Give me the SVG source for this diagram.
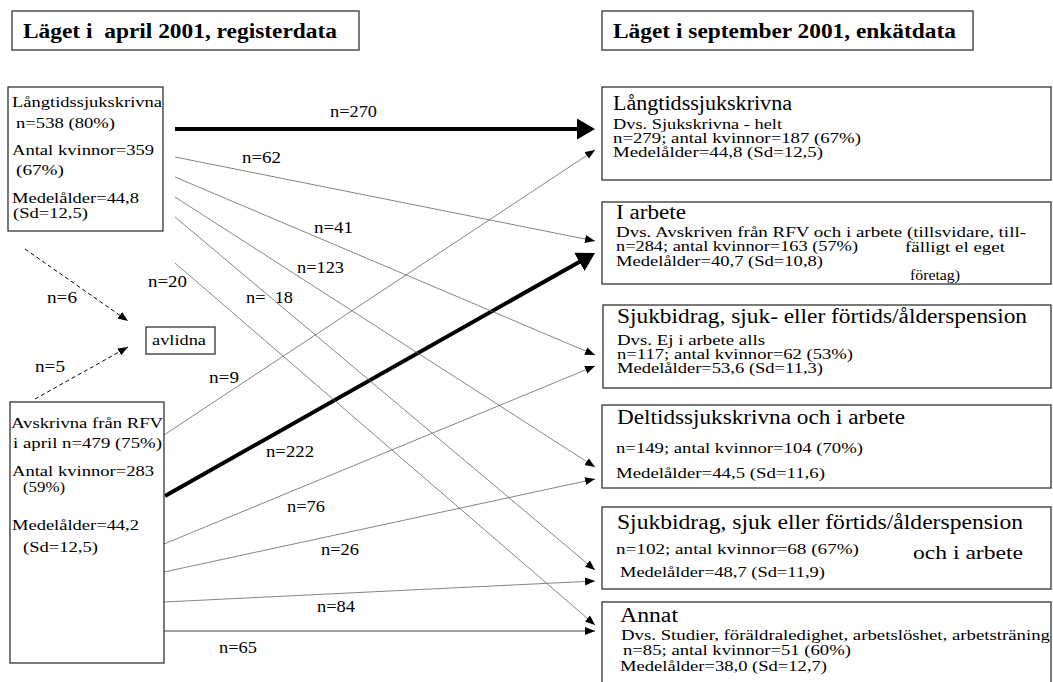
<svg xmlns="http://www.w3.org/2000/svg" width="1053" height="682" viewBox="0 0 1053 682">
<style>
text{font-family:"Liberation Serif","Tinos","Times New Roman","DejaVu Serif",serif;fill:#000;}
.ttl{font-size:20px;font-weight:bold;}
.lb{font-size:15px;}
.n{font-size:16px;}
.hd{font-size:20px;}
.sm{font-size:14px;}
.box{fill:#fff;stroke:#333;stroke-width:1.3;}
.thin{stroke:#666;stroke-width:0.8;fill:none;}
.thick{stroke:#000;stroke-width:4;fill:none;}
.dash{stroke:#000;stroke-width:1;stroke-dasharray:4 3;fill:none;}
</style>
<defs>
<marker id="ah" markerUnits="userSpaceOnUse" markerWidth="11" markerHeight="9" refX="10" refY="4" orient="auto">
<path d="M0,0 L10,4 L0,8 Z" fill="#000"/>
</marker>
<marker id="ahb" markerUnits="userSpaceOnUse" markerWidth="19" markerHeight="22" refX="8" refY="10.5" orient="auto">
<path d="M0,0 L18,10.5 L0,21 Z" fill="#000"/>
</marker>
</defs>
<rect width="1053" height="682" fill="#fff"/>

<g id="title-left">
<rect class="box" x="12" y="11" width="347" height="39"/>
<text class="ttl" x="23" y="38" textLength="314" lengthAdjust="spacingAndGlyphs" xml:space="preserve" style="white-space:pre">Läget i  april 2001, registerdata</text>
</g>
<g id="title-right">
<rect class="box" x="602" y="11" width="371" height="39"/>
<text class="ttl" x="613" y="38" textLength="343" lengthAdjust="spacingAndGlyphs">Läget i september 2001, enkätdata</text>
</g>

<g id="connectors">
<line class="thick" x1="175" y1="129" x2="585" y2="129" marker-end="url(#ahb)"/>
<line class="thick" x1="165" y1="496" x2="586.3" y2="257.9" marker-end="url(#ahb)"/>
<line class="thin" x1="175" y1="157" x2="595" y2="241" marker-end="url(#ah)"/>
<line class="thin" x1="175" y1="177" x2="595" y2="355" marker-end="url(#ah)"/>
<line class="thin" x1="175" y1="197" x2="595" y2="467" marker-end="url(#ah)"/>
<line class="thin" x1="175" y1="217" x2="595" y2="570" marker-end="url(#ah)"/>
<line class="thin" x1="175" y1="263" x2="595" y2="625" marker-end="url(#ah)"/>
<line class="thin" x1="164" y1="435" x2="595" y2="150" marker-end="url(#ah)"/>
<line class="thin" x1="164" y1="544" x2="595" y2="366" marker-end="url(#ah)"/>
<line class="thin" x1="164" y1="572" x2="595" y2="479" marker-end="url(#ah)"/>
<line class="thin" x1="164" y1="602" x2="595" y2="581" marker-end="url(#ah)"/>
<line class="thin" x1="164" y1="631" x2="595" y2="631" style="stroke:#444;stroke-width:1" marker-end="url(#ah)"/>
<line class="dash" x1="25" y1="249" x2="128" y2="321" marker-end="url(#ah)"/>
<line class="dash" x1="35" y1="399" x2="128" y2="347" marker-end="url(#ah)"/>
</g>

<g id="labels">
<text class="n" x="330" y="117" textLength="47" lengthAdjust="spacingAndGlyphs">n=270</text>
<text class="n" x="242" y="163" textLength="39" lengthAdjust="spacingAndGlyphs">n=62</text>
<text class="n" x="314" y="233" textLength="39" lengthAdjust="spacingAndGlyphs">n=41</text>
<text class="n" x="297" y="273" textLength="47" lengthAdjust="spacingAndGlyphs">n=123</text>
<text class="n" x="246" y="303" textLength="47" lengthAdjust="spacingAndGlyphs" xml:space="preserve" style="white-space:pre">n=  18</text>
<text class="n" x="148" y="287" textLength="39" lengthAdjust="spacingAndGlyphs">n=20</text>
<text class="n" x="47" y="303" textLength="30" lengthAdjust="spacingAndGlyphs">n=6</text>
<text class="n" x="35" y="372" textLength="30" lengthAdjust="spacingAndGlyphs">n=5</text>
<text class="n" x="209" y="383" textLength="30" lengthAdjust="spacingAndGlyphs">n=9</text>
<text class="n" x="266" y="457" textLength="48" lengthAdjust="spacingAndGlyphs">n=222</text>
<text class="n" x="287" y="512" textLength="38" lengthAdjust="spacingAndGlyphs">n=76</text>
<text class="n" x="321" y="555" textLength="38" lengthAdjust="spacingAndGlyphs">n=26</text>
<text class="n" x="317" y="612" textLength="38" lengthAdjust="spacingAndGlyphs">n=84</text>
<text class="n" x="219" y="653" textLength="38" lengthAdjust="spacingAndGlyphs">n=65</text>
</g>

<g id="src-langtid">
<rect class="box" x="8" y="87" width="155" height="144"/>
<text class="lb" x="12" y="107" textLength="150" lengthAdjust="spacingAndGlyphs">Långtidssjukskrivna</text>
<text class="lb" x="16" y="128" textLength="99" lengthAdjust="spacingAndGlyphs">n=538 (80%)</text>
<text class="lb" x="12" y="155" textLength="142" lengthAdjust="spacingAndGlyphs">Antal kvinnor=359</text>
<text class="lb" x="16" y="175" textLength="48" lengthAdjust="spacingAndGlyphs">(67%)</text>
<text class="lb" x="12" y="203" textLength="127" lengthAdjust="spacingAndGlyphs">Medelålder=44,8</text>
<text class="lb" x="13" y="218" textLength="75" lengthAdjust="spacingAndGlyphs">(Sd=12,5)</text>
</g>

<g id="src-avskrivna">
<rect class="box" x="10" y="402" width="154" height="261"/>
<text class="lb" x="11" y="428" textLength="152" lengthAdjust="spacingAndGlyphs">Avskrivna från RFV</text>
<text class="lb" x="13" y="448" textLength="149" lengthAdjust="spacingAndGlyphs">i april n=479 (75%)</text>
<text class="lb" x="12" y="476" textLength="142" lengthAdjust="spacingAndGlyphs">Antal kvinnor=283</text>
<text class="lb" x="23" y="492" textLength="42" lengthAdjust="spacingAndGlyphs">(59%)</text>
<text class="lb" x="12" y="530" textLength="127" lengthAdjust="spacingAndGlyphs">Medelålder=44,2</text>
<text class="lb" x="23" y="552" textLength="75" lengthAdjust="spacingAndGlyphs">(Sd=12,5)</text>
</g>

<g id="avlidna">
<rect class="box" x="146" y="327" width="69" height="27"/>
<text class="lb" x="152" y="345" textLength="54" lengthAdjust="spacingAndGlyphs">avlidna</text>
</g>

<g id="dst-langtid">
<rect class="box" x="602" y="87" width="449" height="93"/>
<text class="hd" x="613" y="110" textLength="179" lengthAdjust="spacingAndGlyphs">Långtidssjukskrivna</text>
<text class="sm" x="613" y="129" textLength="169" lengthAdjust="spacingAndGlyphs">Dvs. Sjukskrivna - helt</text>
<text class="sm" x="613" y="143" textLength="248" lengthAdjust="spacingAndGlyphs">n=279; antal kvinnor=187 (67%)</text>
<text class="sm" x="613" y="157" textLength="210" lengthAdjust="spacingAndGlyphs">Medelålder=44,8 (Sd=12,5)</text>
</g>

<g id="dst-arbete">
<rect class="box" x="602" y="202" width="449" height="82"/>
<text class="hd" x="616" y="219" textLength="70" lengthAdjust="spacingAndGlyphs">I arbete</text>
<text class="sm" x="616" y="237" textLength="410" lengthAdjust="spacingAndGlyphs">Dvs. Avskriven från RFV och i arbete (tillsvidare, till-</text>
<text class="sm" x="616" y="251" textLength="242" lengthAdjust="spacingAndGlyphs">n=284; antal kvinnor=163 (57%)</text>
<text class="sm" x="905" y="252" textLength="100" lengthAdjust="spacingAndGlyphs">fälligt el eget</text>
<text class="sm" x="616" y="266" textLength="207" lengthAdjust="spacingAndGlyphs">Medelålder=40,7 (Sd=10,8)</text>
<text class="sm" x="910" y="280" textLength="50" lengthAdjust="spacingAndGlyphs">företag)</text>
</g>

<g id="dst-sjukbidrag">
<rect class="box" x="603" y="305" width="448" height="83"/>
<text class="hd" x="617" y="323" textLength="410" lengthAdjust="spacingAndGlyphs">Sjukbidrag, sjuk- eller förtids/ålderspension</text>
<text class="sm" x="617" y="345" textLength="148" lengthAdjust="spacingAndGlyphs">Dvs. Ej i arbete alls</text>
<text class="sm" x="617" y="359" textLength="236" lengthAdjust="spacingAndGlyphs">n=117; antal kvinnor=62 (53%)</text>
<text class="sm" x="617" y="373" textLength="206" lengthAdjust="spacingAndGlyphs">Medelålder=53,6 (Sd=11,3)</text>
</g>

<g id="dst-deltid">
<rect class="box" x="602" y="405" width="449" height="83"/>
<text class="hd" x="617" y="424" textLength="288" lengthAdjust="spacingAndGlyphs">Deltidssjukskrivna och i arbete</text>
<text class="sm" x="616" y="453" textLength="247" lengthAdjust="spacingAndGlyphs">n=149; antal kvinnor=104 (70%)</text>
<text class="sm" x="616" y="478" textLength="209" lengthAdjust="spacingAndGlyphs">Medelålder=44,5 (Sd=11,6)</text>
</g>

<g id="dst-sjukbidrag-arbete">
<rect class="box" x="602" y="507" width="449" height="82"/>
<text class="hd" x="617" y="529" textLength="406" lengthAdjust="spacingAndGlyphs">Sjukbidrag, sjuk eller förtids/ålderspension</text>
<text class="sm" x="616" y="554" textLength="243" lengthAdjust="spacingAndGlyphs">n=102; antal kvinnor=68 (67%)</text>
<text class="hd" x="913" y="559" textLength="110" lengthAdjust="spacingAndGlyphs" style="font-size:19px">och i arbete</text>
<text class="sm" x="620" y="577" textLength="205" lengthAdjust="spacingAndGlyphs">Medelålder=48,7 (Sd=11,9)</text>
</g>

<g id="dst-annat">
<rect class="box" x="602" y="602" width="449" height="90"/>
<text class="hd" x="620" y="622" textLength="58" lengthAdjust="spacingAndGlyphs">Annat</text>
<text class="sm" x="621" y="640" textLength="429" lengthAdjust="spacingAndGlyphs">Dvs. Studier, föräldraledighet, arbetslöshet, arbetsträning</text>
<text class="sm" x="623" y="655" textLength="228" lengthAdjust="spacingAndGlyphs">n=85; antal kvinnor=51 (60%)</text>
<text class="sm" x="620" y="671" textLength="207" lengthAdjust="spacingAndGlyphs">Medelålder=38,0 (Sd=12,7)</text>
</g>
</svg>
